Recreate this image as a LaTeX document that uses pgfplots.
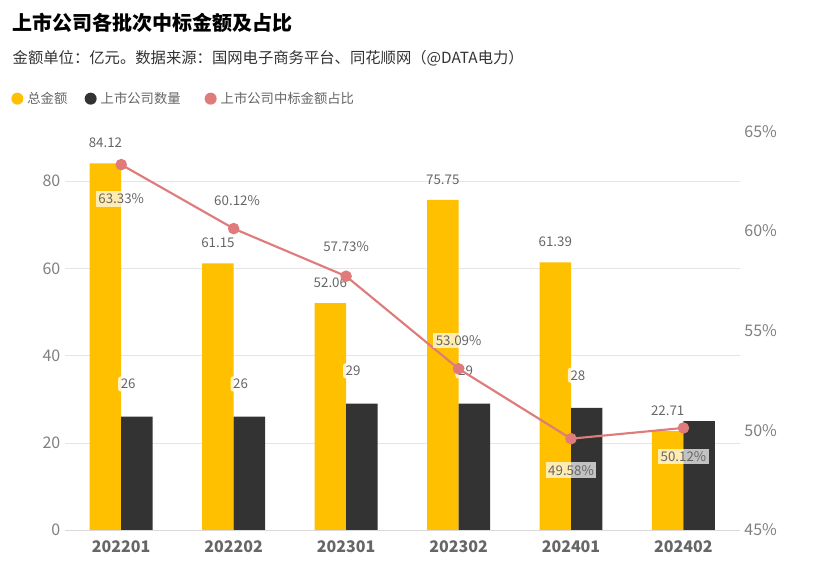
\documentclass[border=0pt]{standalone}
\usepackage{pgfplots}
\pgfplotsset{compat=1.18}
\usepackage{fontspec}
\setmainfont{Noto Sans CJK SC}
\definecolor{yel}{HTML}{FFC000}
\definecolor{drk}{HTML}{333333}
\definecolor{lin}{HTML}{E07B7B}
\definecolor{gtx}{HTML}{666666}
\begin{document}
\begin{tikzpicture}
\fill[white] (0pt,0pt) rectangle (610.5pt,435pt);
\node[anchor=west,font=\fontsize{15}{15}\selectfont\bfseries] at (6pt,418pt) {上市公司各批次中标金额及占比};
\node[anchor=west,font=\fontsize{11.5}{12}\selectfont,text=drk] at (6pt,391pt) {金额单位：亿元。数据来源：国网电子商务平台、同花顺网（@DATA电力）};
\begin{scope}[font=\fontsize{10}{11}\selectfont]
\fill[yel] (13pt,361pt) circle (4.5pt);
\node[anchor=west,text=gtx] at (17pt,361pt) {总金额};
\fill[drk] (68pt,361pt) circle (4.5pt);
\node[anchor=west,text=gtx] at (72pt,361pt) {上市公司数量};
\fill[lin] (158pt,361pt) circle (4.5pt);
\node[anchor=west,text=gtx] at (162pt,361pt) {上市公司中标金额占比};
\end{scope}
\begin{axis}[at={(48.75pt,37.5pt)},anchor=south west,scale only axis,
 width=506pt,height=299pt,xmin=-0.5,xmax=5.5,ymin=0,ymax=91.46,
 axis line style={draw=none},axis x line*=bottom,
 x axis line style={draw=gray!30},
 tick style={draw=none},ytick={0,20,40,60,80},
 ymajorgrids,grid style={gray!20},
 xtick={0,...,5},xticklabels={202201,202202,202301,202302,202401,202402},
 xticklabel style={font=\fontsize{12}{12}\selectfont\bfseries\itshape,text=gtx},
 yticklabel style={font=\fontsize{12}{12}\selectfont\itshape,text=gray},
 /pgf/number format/assume math mode=true,
 bar width=0.28, ybar, clip=false]
\addplot[fill=yel,draw=none,bar shift=-0.14] coordinates {(0,84.12)(1,61.15)(2,52.06)(3,75.75)(4,61.39)(5,22.71)};
\addplot[fill=drk,draw=none,bar shift=0.14] coordinates {(0,26)(1,26)(2,29)(3,29)(4,28)(5,25)};
\foreach \x/\v in {0/84.12,1/61.15,2/52.06,3/75.75,4/61.39,5/22.71}{
 \edef\tmp{\noexpand\node[anchor=south,font=\noexpand\fontsize{10}{10}\noexpand\selectfont,text=gtx] at (axis cs:\x-0.14,\v+2.5) {\v};}\tmp}
\foreach \x/\v in {0/26,1/26,2/29,3/29,4/28}{
 \edef\tmp{\noexpand\node[anchor=west,fill=white,fill opacity=0.8,text opacity=1,rounded corners=2pt,inner sep=2pt,font=\noexpand\fontsize{10}{10}\noexpand\selectfont,text=gtx] at (axis cs:\x-0.03,\v+7.5) {\v};}\tmp}
\end{axis}
\begin{axis}[at={(48.75pt,37.5pt)},anchor=south west,scale only axis,
 width=506pt,height=299pt,xmin=-0.5,xmax=5.5,ymin=45,ymax=65,
 axis line style={draw=none},axis y line*=right,axis x line=none,
 tick style={draw=none},ytick={45,50,...,65},
 yticklabel={\pgfmathprintnumber{\tick}\%},
 yticklabel style={font=\fontsize{12}{12}\selectfont,text=gray},
 /pgf/number format/assume math mode=true,clip=false]
\addplot[lin,line width=1.6pt,mark=*,mark size=3.5pt] coordinates {(0,63.33)(1,60.12)(2,57.73)(3,53.09)(4,49.58)(5,50.12)};
\begin{scope}[every node/.style={fill=white,fill opacity=0.7,text opacity=1,inner sep=2pt,font=\fontsize{10}{10}\selectfont,text=gtx}]
\node at (axis cs:0,61.6) {63.33\%};
\node at (axis cs:1.03,61.5) {60.12\%};
\node at (axis cs:2.0,59.2) {57.73\%};
\node at (axis cs:3.0,54.5) {53.09\%};
\node at (axis cs:4.0,48.0) {49.58\%};
\node at (axis cs:5.0,48.7) {50.12\%};
\end{scope}
\end{axis}
\end{tikzpicture}
\end{document}
